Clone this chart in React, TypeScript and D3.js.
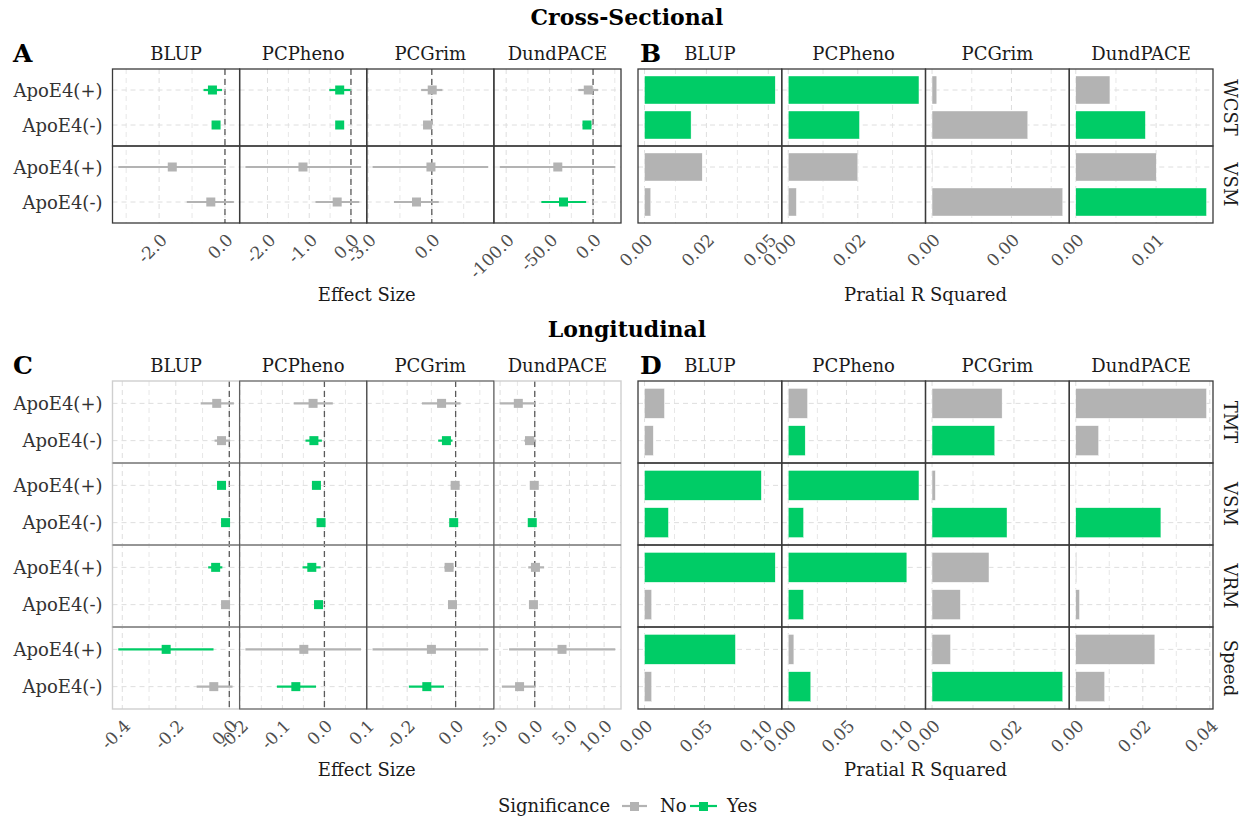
import React from "react";
import * as d3 from "d3";

const FONT = "'DejaVu Serif', serif";
const GREEN = "#00CC66";
const GREY = "#B3B3B3";

const models = ["BLUP", "PCPheno", "PCGrim", "DundPACE"];
const groups = ["ApoE4(+)", "ApoE4(-)"];
const csOutcomes = ["WCST", "VSM"];
const lgOutcomes = ["TMT", "VSM", "VRM", "Speed"];

// Cross-sectional effect sizes, per model: [WCST+, WCST-, VSM+, VSM-]
const csEst = [
  [-0.38, -0.27, -1.6, -0.43],
  [-0.27, -0.27, -1.15, -0.33],
  [0.02, -0.2, -0.04, -0.72],
  [-5.5, -7, -40.6, -34],
];
const csLo = [
  [-0.65, -0.37, -3.24, -1.16],
  [-0.52, -0.35, -2.53, -0.85],
  [-0.5, -0.4, -2.79, -1.78],
  [-17, -12, -107.5, -59.5],
];
const csHi = [
  [-0.09, -0.17, 0.03, 0.27],
  [-0.01, -0.19, 0.24, 0.2],
  [0.5, 0.0, 2.65, 0.33],
  [6, -2, 25.5, -8],
];
const csSig = [
  [1, 1, 0, 0],
  [1, 1, 0, 0],
  [0, 0, 0, 0],
  [0, 1, 0, 1],
];
const csR2 = [
  [0.0528, 0.0188, 0.0233, 0.0025],
  [0.047, 0.0256, 0.025, 0.0029],
  [0.00012, 0.00241, 0.00001, 0.00329],
  [0.00425, 0.00866, 0.01001, 0.01627],
];

// Longitudinal, per model: [TMT+, TMT-, VSM+, VSM-, VRM+, VRM-, Speed+, Speed-]
const lgEst = [
  [-0.047, -0.029, -0.029, -0.014, -0.051, -0.014, -0.236, -0.058],
  [-0.027, -0.025, -0.019, -0.008, -0.03, -0.014, -0.049, -0.068],
  [-0.058, -0.038, -0.002, -0.008, -0.027, -0.013, -0.1, -0.119],
  [-2.37, -0.76, -0.07, -0.36, 0.1, -0.19, 3.93, -2.19],
];
const lgLo = [
  [-0.107, -0.055, -0.037, -0.022, -0.079, -0.022, -0.415, -0.122],
  [-0.073, -0.045, -0.028, -0.017, -0.052, -0.022, -0.188, -0.113],
  [-0.139, -0.072, -0.02, -0.02, -0.047, -0.025, -0.343, -0.193],
  [-5.06, -1.5, -0.4, -0.6, -0.94, -0.45, -3.7, -4.74],
];
const lgHi = [
  [0.017, 0.003, -0.021, -0.006, -0.026, -0.006, -0.059, 0.012],
  [0.02, -0.006, -0.01, -0.001, -0.009, -0.006, 0.087, -0.02],
  [0.02, -0.013, 0.016, 0.004, -0.008, -0.001, 0.134, -0.048],
  [0.1, 0.2, 0.3, -0.1, 1.35, 0.1, 11.6, 0.1],
];
const lgSig = [
  [0, 0, 1, 1, 1, 0, 1, 0],
  [0, 1, 1, 1, 1, 1, 0, 1],
  [0, 1, 0, 1, 0, 0, 0, 1],
  [0, 0, 0, 1, 0, 0, 0, 0],
];
const lgR2 = [
  [0.0166, 0.0073, 0.0974, 0.0199, 0.109, 0.0059, 0.0758, 0.0059],
  [0.0165, 0.0145, 0.1122, 0.0131, 0.1018, 0.0131, 0.0048, 0.0193],
  [0.0171, 0.0153, 0.0008, 0.0183, 0.0139, 0.0069, 0.0045, 0.0319],
  [0.039, 0.0068, 0.00005, 0.0254, 0.0002, 0.0011, 0.0236, 0.0086],
];

// axis breaks and labels
const aMajor = [[-2, 0], [-2, -1, 0], [-3, 0], [-100, -50, 0]];
const aLabels = [["-2.0", "0.0"], ["-2.0", "-1.0", "0.0"], ["-3.0", "0.0"], ["-100.0", "-50.0", "0.0"]];
const aMinor = [[-3, -1], [-1.5, -0.5], [-1.5, 1.5], [-75, -25, 25]];

const bMajor = [[0, 0.025, 0.05], [0, 0.025], [0, 0.002], [0, 0.01]];
const bLabels = [["0.00", "0.02", "0.05"], ["0.00", "0.02"], ["0.00", "0.00"], ["0.00", "0.01"]];
const bMinor = [[0.0125, 0.0375], [0.0125, 0.0375], [0.001, 0.003], [0.005, 0.015]];

const cMajor = [[-0.4, -0.2, 0], [-0.2, -0.1, 0, 0.1], [-0.2, 0], [-5, 0, 5, 10]];
const cLabels = [["-0.4", "-0.2", "0.0"], ["-0.2", "-0.1", "0.0", "0.1"], ["-0.2", "0.0"], ["-5.0", "0.0", "5.0", "10.0"]];
const cMinor = [[-0.3, -0.1], [-0.15, -0.05, 0.05], [-0.3, -0.1, 0.1], [-2.5, 2.5, 7.5]];

const dMajor = [[0, 0.05, 0.1], [0, 0.05, 0.1], [0, 0.02], [0, 0.02, 0.04]];
const dLabels = [["0.00", "0.05", "0.10"], ["0.00", "0.05", "0.10"], ["0.00", "0.02"], ["0.00", "0.02", "0.04"]];
const dMinor = [[0.025, 0.075], [0.025, 0.075], [0.01, 0.03], [0.01, 0.03]];

function effectDomain(lo: number[], hi: number[]): [number, number] {
  const mn = d3.min(lo) as number;
  const mx = d3.max(hi) as number;
  const pad = (mx - mn) * 0.05;
  return [mn - pad, mx + pad];
}
function barDomain(v: number[]): [number, number] {
  const mx = d3.max(v) as number;
  return [-mx * 0.05, mx * 1.05];
}

type PanelProps = {
  x0: number; x1: number; y0: number; y1: number;
  outcomes: string[];
  kind: "effect" | "bar";
  est?: number[][]; lo?: number[][]; hi?: number[][]; vals?: number[][];
  sig: number[][];
  majors: number[][]; labels: string[][]; minors: number[][];
  light?: boolean; yLabels?: boolean; rowStrips?: boolean;
  stripY: number; letter: string; letterX: number; axisTitle: string; axisTitleY: number;
};

function Panel(p: PanelProps) {
  const fw = (p.x1 - p.x0) / models.length;
  const rh = (p.y1 - p.y0) / p.outcomes.length;
  const grid: React.ReactNode[] = [];
  const marks: React.ReactNode[] = [];
  const borders: React.ReactNode[] = [];
  const texts: React.ReactNode[] = [];
  const n = groups.length;

  models.forEach((m, mi) => {
    const fx0 = p.x0 + mi * fw;
    const fx1 = fx0 + fw;
    const dom = p.kind === "effect" ? effectDomain(p.lo![mi], p.hi![mi]) : barDomain(p.vals![mi]);
    const xs = d3.scaleLinear().domain(dom).range([fx0, fx1]);
    const inside = (v: number) => v >= dom[0] && v <= dom[1];

    texts.push(
      <text key={`strip-${mi}`} x={(fx0 + fx1) / 2} y={p.stripY} textAnchor="middle"
        fontSize={18} fill="#1a1a1a" fontFamily={FONT}>{m}</text>
    );

    p.minors[mi].filter(inside).forEach((v, k) => {
      grid.push(<line key={`mi-${mi}-${k}`} x1={xs(v)} x2={xs(v)} y1={p.y0} y2={p.y1}
        stroke="#e4e4e4" strokeWidth={0.9} strokeDasharray="5,4" />);
    });
    p.majors[mi].forEach((v, k) => {
      if (!inside(v)) return;
      grid.push(<line key={`ma-${mi}-${k}`} x1={xs(v)} x2={xs(v)} y1={p.y0} y2={p.y1}
        stroke="#dedede" strokeWidth={1} strokeDasharray="5,4" />);
      const tx = xs(v);
      const ty = p.y1 + 9;
      texts.push(
        <text key={`tl-${mi}-${k}`} x={tx} y={ty} textAnchor="end" dominantBaseline="hanging"
          transform={`rotate(-45, ${tx}, ${ty})`} fontSize={17} fill="#4d4d4d" fontFamily={FONT}>
          {p.labels[mi][k]}
        </text>
      );
    });

    if (p.kind === "effect") {
      grid.push(<line key={`zero-${mi}`} x1={xs(0)} x2={xs(0)} y1={p.y0} y2={p.y1}
        stroke="#5a5a5a" strokeWidth={1.3} strokeDasharray="6,4" />);
    }

    p.outcomes.forEach((o, oi) => {
      const ry0 = p.y0 + oi * rh;
      const ry1 = ry0 + rh;
      const ys = d3.scalePoint<string>().domain(groups).range([ry0, ry1]).padding(0.6);
      const step = ys.step();
      groups.forEach((g, gi) => {
        const idx = oi * n + gi;
        const yy = ys(g) as number;
        grid.push(<line key={`h-${mi}-${oi}-${gi}`} x1={fx0} x2={fx1} y1={yy} y2={yy}
          stroke="#dedede" strokeWidth={1} strokeDasharray="5,4" />);
        const col = p.sig[mi][idx] ? GREEN : GREY;
        if (p.kind === "effect") {
          marks.push(<line key={`ci-${mi}-${idx}`} x1={xs(p.lo![mi][idx])} x2={xs(p.hi![mi][idx])}
            y1={yy} y2={yy} stroke={col} strokeWidth={2.2} />);
          marks.push(<rect key={`pt-${mi}-${idx}`} x={xs(p.est![mi][idx]) - 4.5} y={yy - 4.5}
            width={9} height={9} fill={col} />);
        } else {
          const v = p.vals![mi][idx];
          const bh = step * 0.8;
          marks.push(<rect key={`bar-${mi}-${idx}`} x={xs(0)} y={yy - bh / 2}
            width={Math.max(0, xs(v) - xs(0))} height={bh} fill={col} stroke="#ffffff" strokeWidth={0.4} />);
        }
      });

      if (p.light) {
        borders.push(<rect key={`bl-${mi}-${oi}`} x={fx0} y={ry0} width={fw} height={rh} fill="none"
          stroke="#cfcfcf" strokeWidth={1.4} />);
      } else {
        borders.push(<rect key={`bd-${mi}-${oi}`} x={fx0} y={ry0} width={fw} height={rh} fill="none"
          stroke="#3a3a3a" strokeWidth={1.3} />);
      }
    });
  });

  if (p.light) {
    // dark thin borders for middle facets and row dividers
    [1, 2].forEach((mi) => {
      borders.push(<rect key={`dm-${mi}`} x={p.x0 + mi * fw} y={p.y0} width={fw} height={p.y1 - p.y0}
        fill="none" stroke="#4a4a4a" strokeWidth={0.9} />);
    });
    p.outcomes.forEach((o, oi) => {
      if (oi === 0) return;
      const yy = p.y0 + oi * rh;
      borders.push(<line key={`rd-${oi}`} x1={p.x0} x2={p.x1} y1={yy} y2={yy} stroke="#4a4a4a" strokeWidth={0.9} />);
    });
  }

  p.outcomes.forEach((o, oi) => {
    const ry0 = p.y0 + oi * rh;
    const ry1 = ry0 + rh;
    const ys = d3.scalePoint<string>().domain(groups).range([ry0, ry1]).padding(0.6);
    if (p.yLabels) {
      groups.forEach((g) => {
        texts.push(
          <text key={`yl-${oi}-${g}`} x={p.x0 - 10} y={ys(g) as number} textAnchor="end"
            dominantBaseline="central" fontSize={18} fill="#333" fontFamily={FONT}>{g}</text>
        );
      });
    }
    if (p.rowStrips) {
      const cx = p.x1 + 17;
      const cy = (ry0 + ry1) / 2;
      texts.push(
        <text key={`rs-${oi}`} x={cx} y={cy} textAnchor="middle" dominantBaseline="central"
          transform={`rotate(90, ${cx}, ${cy})`} fontSize={18} fill="#1a1a1a" fontFamily={FONT}>{o}</text>
      );
    }
  });

  texts.push(
    <text key="letter" x={p.letterX} y={p.stripY + 2} fontSize={25} fontWeight="bold" fill="#000" fontFamily={FONT}>{p.letter}</text>
  );
  texts.push(
    <text key="atitle" x={(p.x0 + p.x1) / 2} y={p.axisTitleY} textAnchor="middle" fontSize={18} fill="#1a1a1a" fontFamily={FONT}>{p.axisTitle}</text>
  );

  return (
    <g>
      <rect x={p.x0} y={p.y0} width={p.x1 - p.x0} height={p.y1 - p.y0} fill="#fff" />
      {grid}
      {marks}
      {borders}
      {texts}
    </g>
  );
}

export default function App() {
  const ax0 = 112.5, ax1 = 621, bx0 = 638, bx1 = 1213;
  const topY0 = 69, topY1 = 223, botY0 = 381, botY1 = 709;
  return (
    <svg width={1246} height={820} style={{ position: "absolute", left: 0, top: 0, background: "#fff" }}>
      <rect x={0} y={0} width={1246} height={820} fill="#fff" />
      <text x={627} y={25} textAnchor="middle" fontSize={22} fontWeight="bold" fontFamily={FONT}>Cross-Sectional</text>
      <text x={627} y={337} textAnchor="middle" fontSize={22} fontWeight="bold" fontFamily={FONT}>Longitudinal</text>

      <Panel x0={ax0} x1={ax1} y0={topY0} y1={topY1} outcomes={csOutcomes} kind="effect"
        est={csEst} lo={csLo} hi={csHi} sig={csSig} majors={aMajor} labels={aLabels} minors={aMinor}
        yLabels stripY={60} letter="A" letterX={13} axisTitle="Effect Size" axisTitleY={301} />
      <Panel x0={bx0} x1={bx1} y0={topY0} y1={topY1} outcomes={csOutcomes} kind="bar"
        vals={csR2} sig={csSig} majors={bMajor} labels={bLabels} minors={bMinor}
        rowStrips stripY={60} letter="B" letterX={640} axisTitle="Pratial R Squared" axisTitleY={301} />
      <Panel x0={ax0} x1={ax1} y0={botY0} y1={botY1} outcomes={lgOutcomes} kind="effect"
        est={lgEst} lo={lgLo} hi={lgHi} sig={lgSig} majors={cMajor} labels={cLabels} minors={cMinor}
        light yLabels stripY={372} letter="C" letterX={13} axisTitle="Effect Size" axisTitleY={776} />
      <Panel x0={bx0} x1={bx1} y0={botY0} y1={botY1} outcomes={lgOutcomes} kind="bar"
        vals={lgR2} sig={lgSig} majors={dMajor} labels={dLabels} minors={dMinor}
        rowStrips stripY={372} letter="D" letterX={640} axisTitle="Pratial R Squared" axisTitleY={776} />

      <g fontFamily={FONT} fontSize={18} fill="#1a1a1a">
        <text x={498} y={812}>Significance</text>
        <line x1={622} x2={647} y1={806} y2={806} stroke={GREY} strokeWidth={2.2} />
        <rect x={630} y={802} width={9} height={9} fill={GREY} />
        <text x={660} y={812}>No</text>
        <line x1={690} x2={717} y1={806} y2={806} stroke={GREEN} strokeWidth={2.2} />
        <rect x={699} y={802} width={9} height={9} fill={GREEN} />
        <text x={727} y={812}>Yes</text>
      </g>
    </svg>
  );
}
